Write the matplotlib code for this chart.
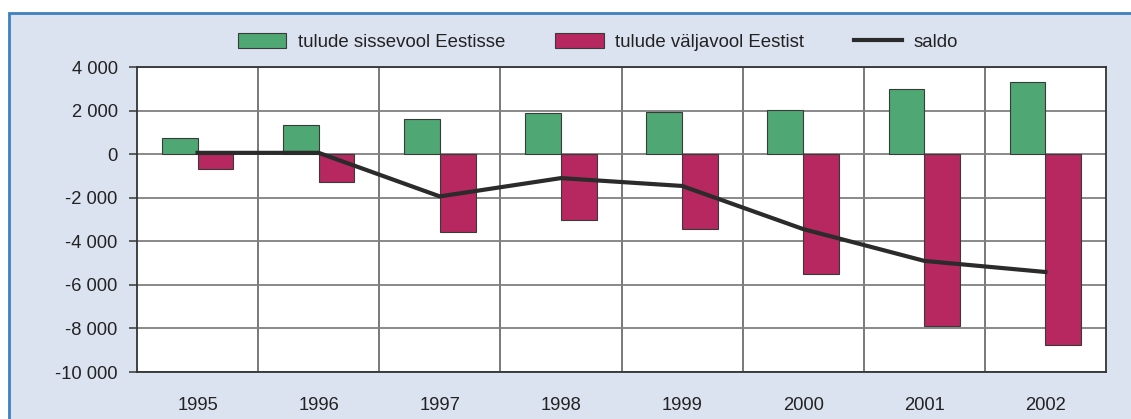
import matplotlib
matplotlib.use("Agg")
import matplotlib.pyplot as plt
from matplotlib.patches import Rectangle
from matplotlib.lines import Line2D
from matplotlib.ticker import FuncFormatter, FixedLocator
import numpy as np

years = ["1995", "1996", "1997", "1998", "1999", "2000", "2001", "2002"]
inflow = [750, 1350, 1620, 1880, 1950, 2040, 2990, 3330]
outflow = [-690, -1300, -3590, -3000, -3420, -5500, -7900, -8750]
saldo = [60, 60, -1940, -1100, -1460, -3440, -4900, -5410]
labels = ["tulude sissevool Eestisse", "tulude väljavool Eestist", "saldo"]

plt.rcParams['font.family'] = ['Liberation Sans', 'DejaVu Sans']

W, H = 1131, 419
fig = plt.figure(figsize=(W / 100, H / 100), dpi=100)
fig.patch.set_facecolor('white')

bg = Rectangle((9 / W, -0.2), 1.2, 1.2 - 13 / H, transform=fig.transFigure,
               facecolor='#dce3f0', edgecolor='#3f80bf', linewidth=2, zorder=-10)
fig.patches.append(bg)

ax = fig.add_axes([137 / W, 1 - 372 / H, (1106 - 137) / W, (372 - 67) / H])
ax.set_facecolor('white')

x = np.arange(len(years))
w = 0.295
green = '#4fa873'
magenta = '#b6285f'
ax.bar(x - w / 2, inflow, width=w, color=green, edgecolor='#3a3a3a', linewidth=0.8, zorder=3)
ax.bar(x + w / 2, outflow, width=w, color=magenta, edgecolor='#3a3a3a', linewidth=0.8, zorder=3)
ax.plot(x, saldo, color='#2b2b2b', linewidth=3, zorder=4, solid_joinstyle='round')

ax.set_xlim(-0.5, len(years) - 0.5)
ax.set_ylim(-10000, 4000)
ax.set_yticks(np.arange(-10000, 4001, 2000))
ax.yaxis.set_major_formatter(FuncFormatter(
    lambda v, p: ("-" if v < 0 else "") + f"{abs(int(v)):,}".replace(",", " ")))
ax.set_xticks(x)
ax.set_xticklabels(years)
ax.xaxis.set_minor_locator(FixedLocator(np.arange(0.5, len(years) - 0.5, 1)))

ax.grid(axis='y', which='major', color='#808080', linewidth=1.3, zorder=0)
ax.grid(axis='x', which='minor', color='#555555', linewidth=1.1, zorder=0)
ax.set_axisbelow(True)

ax.tick_params(axis='y', length=6, width=1.2, color='#444444', labelsize=13.2,
               labelcolor='#222222', pad=8)
ax.tick_params(axis='x', which='both', length=0, labelsize=13.2,
               labelcolor='#222222', pad=18)
for s in ax.spines.values():
    s.set_color('#333333')
    s.set_linewidth(1.3)

handles = [Rectangle((0, 0), 1, 1, facecolor=green, edgecolor='#3a3a3a', linewidth=0.8),
           Rectangle((0, 0), 1, 1, facecolor=magenta, edgecolor='#3a3a3a', linewidth=0.8),
           Line2D([0], [0], color='#2b2b2b', linewidth=3)]
fig.legend(handles, labels, loc='center', bbox_to_anchor=(598 / W, 1 - 42 / H),
           ncol=3, frameon=False, fontsize=13.4, handlelength=2.6, handleheight=0.85,
           handletextpad=0.6, columnspacing=2.7, labelcolor='#222222')

fig.savefig('out.png', dpi=100, facecolor=fig.get_facecolor())
